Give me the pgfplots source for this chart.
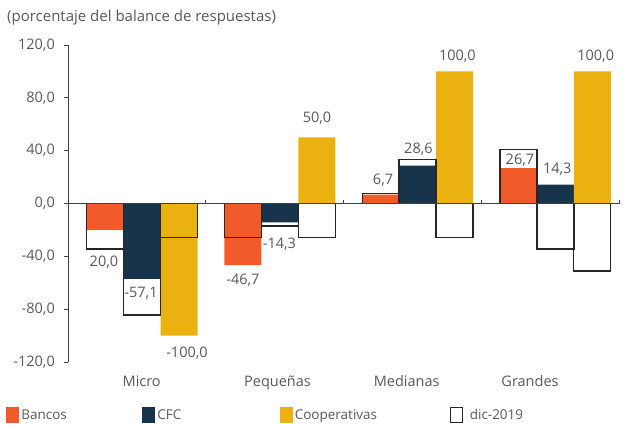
\documentclass[border=0pt]{standalone}
\usepackage{pgfplots}
\pgfplotsset{compat=1.18}
\usepackage{fontspec}
\setmainfont{Open Sans}
\definecolor{bancos}{HTML}{F15A29}
\definecolor{cfc}{HTML}{18344A}
\definecolor{coop}{HTML}{EAB110}
\definecolor{txt}{HTML}{595959}
\definecolor{axiscol}{HTML}{404040}
\definecolor{outl}{HTML}{262626}
\begin{document}
\begin{tikzpicture}
\useasboundingbox (-68pt,-62pt) rectangle (558pt,362pt);
\begin{axis}[
  scale only axis, width=551pt, height=317pt,
  xmin=-0.5, xmax=3.5, ymin=-120, ymax=120,
  enlargelimits=false, clip=false,
  separate axis lines,
  axis x line*=bottom, axis y line*=left,
  x axis line style={draw=none},
  y axis line style={draw=axiscol, line width=0.8pt},
  xtick={0.035,1.021,1.959,2.854},
  xticklabels={Micro,Pequeñas,Medianas,Grandes},
  xtick style={draw=none},
  ytick={-120,-80,-40,0,40,80,120},
  yticklabels={{-120,0},{-80,0},{-40,0},{0,0},{40,0},{80,0},{120,0}},
  ytick style={draw=axiscol, line width=0.8pt},
  tick align=outside, major tick length=4pt,
  every tick label/.append style={font=\fontsize{14.5}{17}\selectfont, text=txt, inner sep=0pt},
  xticklabel style={anchor=base, yshift=-20pt},
  yticklabel style={anchor=east, xshift=-9pt},
  legend columns=4,
  legend style={at={(axis description cs:-0.1125,-0.167)}, anchor=west, draw=none, fill=none,
    inner sep=0pt, outer sep=0pt, font=\fontsize{13.5}{16}\selectfont, text=txt,
    nodes={inner sep=0pt},
    /tikz/every odd column/.append style={column sep=2pt}},
]
\addplot[ybar, bar width=0.2686, fill=bancos, draw=none,
  legend image code/.code={\fill[bancos] (0pt,-8pt) rectangle (13.3pt,8pt);}]
  coordinates {(-0.230,-20.0) (0.770,-46.7) (1.770,6.7) (2.770,26.7)};
\addlegendentry{\makebox[120.7pt][l]{Bancos}}
\addplot[ybar, bar width=0.2686, fill=cfc, draw=none,
  legend image code/.code={\fill[cfc] (0pt,-8pt) rectangle (13.3pt,8pt);}]
  coordinates {(0.038,-57.1) (1.038,-14.3) (2.038,28.6) (3.038,14.3)};
\addlegendentry{\makebox[122.2pt][l]{CFC}}
\addplot[ybar, bar width=0.2686, fill=coop, draw=none,
  legend image code/.code={\fill[coop] (0pt,-8pt) rectangle (13.3pt,8pt);}]
  coordinates {(0.306,-100.0) (1.306,50.0) (2.306,100.0) (3.306,100.0)};
\addlegendentry{\makebox[155pt][l]{Cooperativas}}
\addplot[ybar, bar width=0.2686, fill=none, draw=outl, line width=1.3pt,
  legend image code/.code={\draw[outl, line width=0.9pt, fill=white] (0.45pt,-7.55pt) rectangle (12.85pt,7.55pt);}]
  coordinates {(-0.230,-34.5) (0.770,-26.0) (1.770,7.7) (2.770,41.0)
               (0.038,-84.5) (1.038,-17.0) (2.038,33.5) (3.038,-34.5)
               (0.306,-26.0) (1.306,-26.0) (2.306,-26.0) (3.306,-51.0)};
\addlegendentry{\hspace{4.7pt}dic-2019}
\draw[axiscol, line width=0.8pt] (axis cs:-0.5,0) -- (axis cs:3.5,0);
\pgfplotsinvokeforeach{0.5,1.5,2.5,3.5}{
  \draw[axiscol, line width=0.8pt] (axis cs:#1,0) -- ++(0pt,4pt);
}
\begin{scope}[every node/.style={font=\fontsize{14.5}{17}\selectfont, text=txt, inner sep=0pt, anchor=center}]
\node at (axis cs:-0.239,-44.3) {20,0};
\node at (axis cs:0.030,-67.8) {-57,1};
\node at (axis cs:0.364,-113.2) {-100,0};
\node at (axis cs:0.770,-57.9) {-46,7};
\node at (axis cs:1.035,-30.7) {-14,3};
\node at (axis cs:1.308,64.7) {50,0};
\node at (axis cs:1.787,17.8) {6,7};
\node at (axis cs:2.044,41.0) {28,6};
\node at (axis cs:2.327,111.7) {100,0};
\node at (axis cs:2.781,32.9) {26,7};
\node at (axis cs:3.052,25.9) {14,3};
\node at (axis cs:3.331,111.7) {100,0};
\end{scope}
\node[anchor=base west, inner sep=0pt, font=\fontsize{15}{18}\selectfont, text=txt] at (axis description cs:-0.1107,1.0757) {(porcentaje del balance de respuestas)};
\end{axis}
\end{tikzpicture}
\end{document}
